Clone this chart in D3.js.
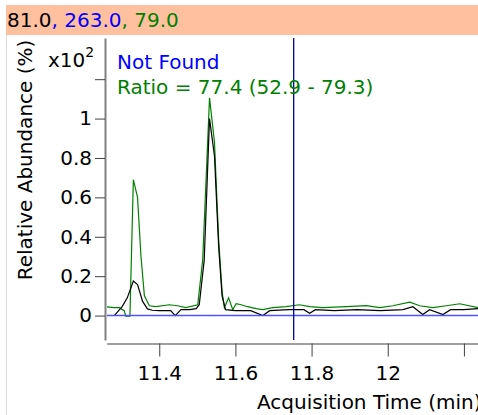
<!DOCTYPE html>
<html>
<head>
  <meta charset="utf-8">
  <script src="https://d3js.org/d3.v7.min.js"></script>
  <style>
    body { margin: 0; background: #fff; }
    text { font-family: "DejaVu Sans", Verdana, sans-serif; }
  </style>
</head>
<body>
  <svg id="chart" width="478" height="415"></svg>

  <script>
    // ion labels for the header
    const ions = ["81.0", "263.0", "79.0"];
    const ionColors = ["#000000", "#0000ff", "#008000"];

    // trace of 81.0 (black)
    const timeA = [11.282, 11.303, 11.316, 11.332, 11.343, 11.356, 11.369, 11.382, 11.400, 11.430,
      11.442, 11.457, 11.480, 11.497, 11.505, 11.518, 11.532, 11.545, 11.556, 11.565,
      11.574, 11.600, 11.640, 11.672, 11.690, 11.740, 11.780, 11.795, 11.810, 11.860,
      11.920, 11.980, 12.040, 12.066, 12.092, 12.110, 12.145, 12.165, 12.200, 12.237];
    const valA = [0, 0.047, 0.09, 0.175, 0.157, 0.073, 0.034, 0.027, 0.025, 0.025,
      0.0, 0.03, 0.03, 0.035, 0.055, 0.28, 1.0, 0.81, 0.35, 0.1,
      0.03, 0.025, 0.025, 0.0, 0.025, 0.03, 0.03, 0.012, 0.03, 0.025,
      0.03, 0.025, 0.03, 0.045, 0.005, 0.03, 0.005, 0.03, 0.03, 0.035];

    // trace of 79.0 (green)
    const timeB = [11.261, 11.282, 11.295, 11.308, 11.312, 11.323, 11.332, 11.343, 11.352, 11.361,
      11.374, 11.391, 11.426, 11.448, 11.470, 11.501, 11.514, 11.532, 11.545, 11.556,
      11.565, 11.571, 11.582, 11.593, 11.602, 11.615, 11.632, 11.654, 11.672, 11.698,
      11.733, 11.768, 11.795, 11.829, 11.891, 11.944, 11.979, 12.013, 12.058, 12.084,
      12.118, 12.154, 12.189, 12.237];
    const valB = [0.045, 0.04, 0.04, 0.025, -0.003, -0.003, 0.69, 0.6, 0.3, 0.1,
      0.05, 0.045, 0.055, 0.05, 0.04, 0.055, 0.28, 1.105, 0.88, 0.385,
      0.12, 0.04, 0.09, 0.03, 0.06, 0.055, 0.045, 0.035, 0.03, 0.04,
      0.045, 0.055, 0.045, 0.04, 0.045, 0.05, 0.04, 0.05, 0.068, 0.05,
      0.04, 0.05, 0.06, 0.04];

    // trace of 263.0 (blue) - nothing found
    const timeC = [11.262, 12.237];
    const valC = [0, 0];

    const markerTime = 11.753;
    const yTicks = [0, 0.2, 0.4, 0.6, 0.8, 1, 1.2];
    const xTicks = [11.4, 11.6, 11.8, 12, 12.2];

    const svg = d3.select("#chart");

    // header band
    svg.append("rect").attr("x", 6).attr("y", 5).attr("width", 472).attr("height", 30)
      .attr("fill", "#ffc0a0");
    svg.append("line").attr("x1", 6.5).attr("x2", 6.5).attr("y1", 35).attr("y2", 415)
      .attr("stroke", "#d8d8d8");

    const head = svg.append("text").attr("x", 7).attr("y", 27).style("font-size", "20px");
    ions.forEach((d, i) => {
      head.append("tspan").attr("fill", ionColors[i]).text(d);
      if (i < ions.length - 1) head.append("tspan").attr("fill", ionColors[i + 1]).text(", ");
    });

    const x = d3.scaleLinear().domain([11.262, 12.237]).range([106.7, 478]);
    const y = d3.scaleLinear().domain([-0.124, 1.409]).range([340, 38]);

    // y axis
    const yAxis = svg.append("g").attr("transform", "translate(105,0)")
      .call(d3.axisLeft(y).tickValues(yTicks).tickSize(10).tickSizeOuter(0).tickPadding(3)
        .tickFormat(d => d === 1.2 ? "" : d3.format("~g")(d)));
    yAxis.select(".domain").attr("stroke", "#808080").attr("stroke-width", 2);
    yAxis.selectAll(".tick line").attr("stroke", "#404040");
    yAxis.selectAll(".tick text").style("font-size", "20px").attr("fill", "#000");

    // x axis
    const xAxis = svg.append("g").attr("transform", "translate(0,343.5)")
      .call(d3.axisBottom(x).tickValues(xTicks).tickSize(13).tickSizeOuter(0).tickPadding(9)
        .tickFormat(d => d === 12.2 ? "" : d3.format("~g")(d)));
    xAxis.select(".domain").attr("stroke", "#404040").attr("stroke-width", 1.2);
    xAxis.selectAll(".tick line").attr("stroke", "#404040");
    xAxis.selectAll(".tick text").style("font-size", "20px").attr("fill", "#000");

    // multiplier
    const mult = svg.append("text").attr("x", 48).attr("y", 67).style("font-size", "20px");
    mult.append("tspan").text("x10");
    mult.append("tspan").attr("dy", -10).style("font-size", "14px").text("2");

    // axis titles
    svg.append("text").attr("transform", "translate(32,160) rotate(-90)")
      .attr("text-anchor", "middle").style("font-size", "20px").text("Relative Abundance (%)");
    svg.append("text").attr("x", 257).attr("y", 409).style("font-size", "20px")
      .text("Acquisition Time (min)");

    // plot area
    svg.append("clipPath").attr("id", "clip").append("rect")
      .attr("x", 107).attr("y", 38).attr("width", 371).attr("height", 302);
    const plot = svg.append("g").attr("clip-path", "url(#clip)");

    const line = d3.line().x(d => x(d[0])).y(d => y(d[1]));

    plot.append("path").datum(d3.zip(timeB, valB)).attr("d", line)
      .attr("fill", "none").attr("stroke", "#008000").attr("stroke-width", 1.2);
    plot.append("path").datum(d3.zip(timeA, valA)).attr("d", line)
      .attr("fill", "none").attr("stroke", "#000").attr("stroke-width", 1.2);
    plot.append("path").datum(d3.zip(timeC, valC)).attr("d", line)
      .attr("fill", "none").attr("stroke", "#5050ff").attr("stroke-width", 1.5);

    plot.append("line").attr("x1", x(markerTime)).attr("x2", x(markerTime))
      .attr("y1", 38).attr("y2", 340).attr("stroke", "#0000a0").attr("stroke-width", 1.3);

    // annotations
    svg.append("text").attr("x", 117).attr("y", 69).attr("fill", "#0000ff")
      .style("font-size", "20px").text("Not Found");
    svg.append("text").attr("x", 117).attr("y", 94).attr("fill", "#008000")
      .style("font-size", "20px").text("Ratio = 77.4 (52.9 - 79.3)");
  </script>
</body>
</html>
